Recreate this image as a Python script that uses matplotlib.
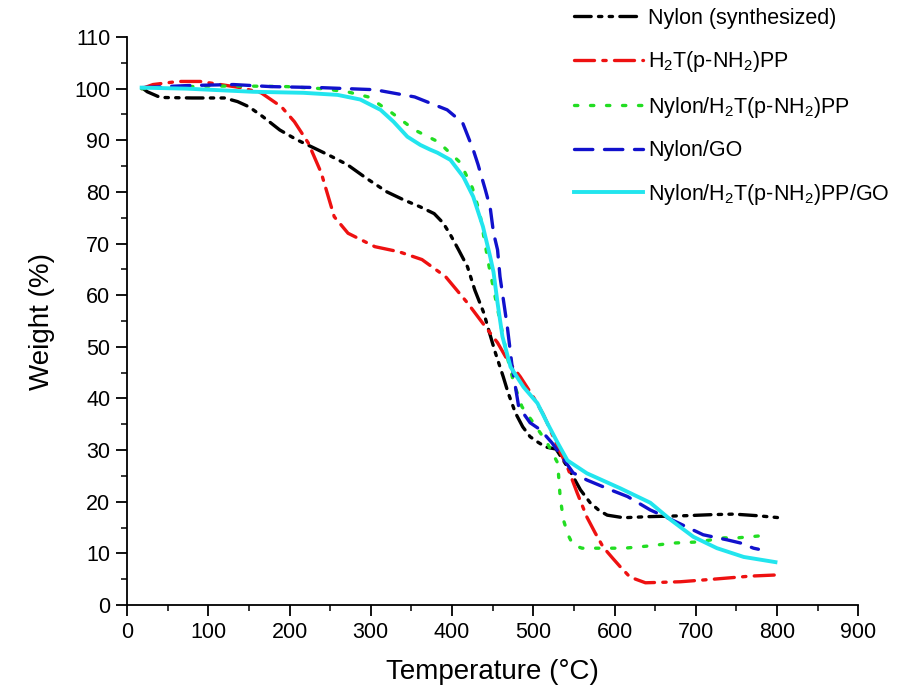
import matplotlib
matplotlib.use("Agg")
import matplotlib.pyplot as plt
from matplotlib.ticker import MultipleLocator

plt.rcParams['font.family'] = ['Liberation Sans', 'DejaVu Sans']
plt.rcParams['mathtext.fontset'] = 'custom'
plt.rcParams['mathtext.rm'] = 'Liberation Sans'
plt.rcParams['mathtext.default'] = 'regular'

# Nylon (synthesized)
t_nylon = [20, 25, 41, 80, 120, 136, 150, 167, 188, 209, 229, 250, 271, 295, 320, 340,
           361, 378, 389, 398, 408, 419, 428, 439, 445, 453, 463, 469, 478, 487, 496, 505,
           515, 528, 545, 558, 570, 581, 591, 611, 640, 689, 720, 747, 775, 803]
w_nylon = [100, 99.4, 98.3, 98.2, 98.2, 97.5, 96.5, 94.6, 92, 90.1, 88.6, 87.0, 85.3, 82.6, 80, 78.5,
           77.1, 75.8, 74, 71.7, 68.8, 65.5, 61, 56.6, 53.3, 49, 44.2, 41.1, 37.2, 34.5, 32.6, 31.6,
           30.6, 30.2, 26, 22.3, 19.8, 18.3, 17.4, 16.9, 17.1, 17.3, 17.5, 17.6, 17.3, 16.9]

# H2T(p-NH2)PP
t_por = [18, 32, 63, 90, 115, 140, 165, 190, 206, 223, 239, 255, 272, 305, 335, 363, 392, 419,
         441, 456, 468, 484, 500, 512, 517, 530, 542, 554, 566, 576, 586, 598, 607, 619, 638,
         660, 681, 722, 768, 797]
w_por = [100, 100.8, 101.4, 101.4, 100.8, 100.2, 99.2, 96.5, 93.6, 89.5, 83.7, 75.2, 72, 69.4,
         68.4, 66.9, 63.6, 58.5, 53.9, 50.8, 47.5, 44.2, 40.3, 37.0, 35.3, 30.6, 26.7, 21.7, 17,
         14, 11.2, 9, 7.4, 5.4, 4.3, 4.4, 4.5, 5, 5.6, 5.8]

# Nylon/H2T(p-NH2)PP
t_nyl_por = [18, 50, 100, 150, 197, 240, 271, 297, 326, 354, 383, 410, 425, 434, 445, 457,
             468, 476, 486, 500, 517, 530, 533, 537, 543, 549, 560, 583, 612, 640, 673, 702,
             735, 751, 780]
w_nyl_por = [100, 100.3, 100.5, 100.5, 100.4, 100, 99.4, 98.4, 95.3, 92, 89.7, 85.7, 80.8, 76,
             66, 56.6, 48, 43, 38.4, 35.3, 31.4, 27.5, 21, 16.5, 13.5, 11.6, 11, 11, 11, 11.4,
             12, 12.2, 13, 13, 13.4]

# Nylon/GO
t_nyl_go = [18, 74, 131, 177, 239, 305, 354, 394, 413, 426, 432, 441, 447, 451, 456, 459, 468,
            474, 482, 496, 509, 523, 549, 566, 595, 616, 644, 665, 697, 709, 739, 755, 771, 777]
w_nyl_go = [100.2, 100.6, 100.8, 100.4, 100.2, 99.8, 98.4, 95.9, 93.4, 88.2, 85.3, 80.4, 76.9,
            72.1, 68.8, 63.6, 53.9, 46.1, 38.4, 35.3, 33.9, 31.4, 25.6, 24.2, 22.3, 21, 18.4,
            16.9, 14.5, 13.6, 12.6, 12, 11, 10.8]

# Nylon/H2T(p-NH2)PP/GO
t_all = [18, 74, 155, 217, 259, 287, 312, 328, 345, 361, 373, 382, 398, 414, 426, 438, 447, 451,
         456, 462, 472, 488, 505, 517, 530, 542, 566, 607, 644, 669, 697, 726, 759, 798]
w_all = [100.2, 100, 99.4, 99.2, 98.8, 97.9, 95.9, 93.6, 90.7, 89.1, 88.2, 87.6, 86.2, 82.9,
         79.1, 73.3, 67.4, 64.5, 58.5, 52, 46.1, 42.2, 39.1, 35.3, 31.4, 28, 25.5, 22.6, 19.8,
         16.5, 13.2, 11, 9.3, 8.3]

labels = ['Nylon (synthesized)', r'H$_2$T(p-NH$_2$)PP', r'Nylon/H$_2$T(p-NH$_2$)PP',
          'Nylon/GO', r'Nylon/H$_2$T(p-NH$_2$)PP/GO']

fig = plt.figure(figsize=(9.04, 6.99), dpi=100)
ax = fig.add_axes([0.1405, 0.1345, 0.809, 0.8125])

lw = 2.4
ax.plot(t_nylon, w_nylon, color='black', lw=lw, ls=(0, (5, 2.2, 1, 2.2, 1, 2.2)),
        dash_capstyle='round', label=labels[0])
ax.plot(t_por, w_por, color='#ee1111', lw=lw, ls=(0, (6, 2.5, 1, 2.5)),
        dash_capstyle='round', label=labels[1])
ax.plot(t_nyl_por, w_nyl_por, color='#22dd22', lw=lw, ls=(0, (1, 3.8)),
        dash_capstyle='round', label=labels[2])
ax.plot(t_nyl_go, w_nyl_go, color='#1111cc', lw=lw, ls=(0, (5.5, 3.5)),
        dash_capstyle='round', label=labels[3])
ax.plot(t_all, w_all, color='#22e5ee', lw=lw + 0.4, ls='-', label=labels[4])

ax.set_xlim(0, 900)
ax.set_ylim(0, 110)
ax.xaxis.set_major_locator(MultipleLocator(100))
ax.xaxis.set_minor_locator(MultipleLocator(50))
ax.yaxis.set_major_locator(MultipleLocator(10))
ax.yaxis.set_minor_locator(MultipleLocator(5))
for s in ['top', 'right']:
    ax.spines[s].set_visible(False)
for s in ['left', 'bottom']:
    ax.spines[s].set_linewidth(1.3)
ax.tick_params(which='major', direction='out', length=8, width=1.3, labelsize=15.5, pad=4)
ax.tick_params(which='minor', direction='out', length=4.5, width=1.1)

ax.set_xlabel('Temperature (°C)', fontsize=20, labelpad=12)
ax.set_ylabel('Weight (%)', fontsize=20, labelpad=14)

fig.legend(loc='upper left', bbox_to_anchor=(574 / 904, 1 - 8 / 699), frameon=False,
           fontsize=15.5, handlelength=3.2, handletextpad=0.25, labelspacing=0.95,
           borderpad=0, borderaxespad=0)

fig.savefig('out.png', dpi=100)
